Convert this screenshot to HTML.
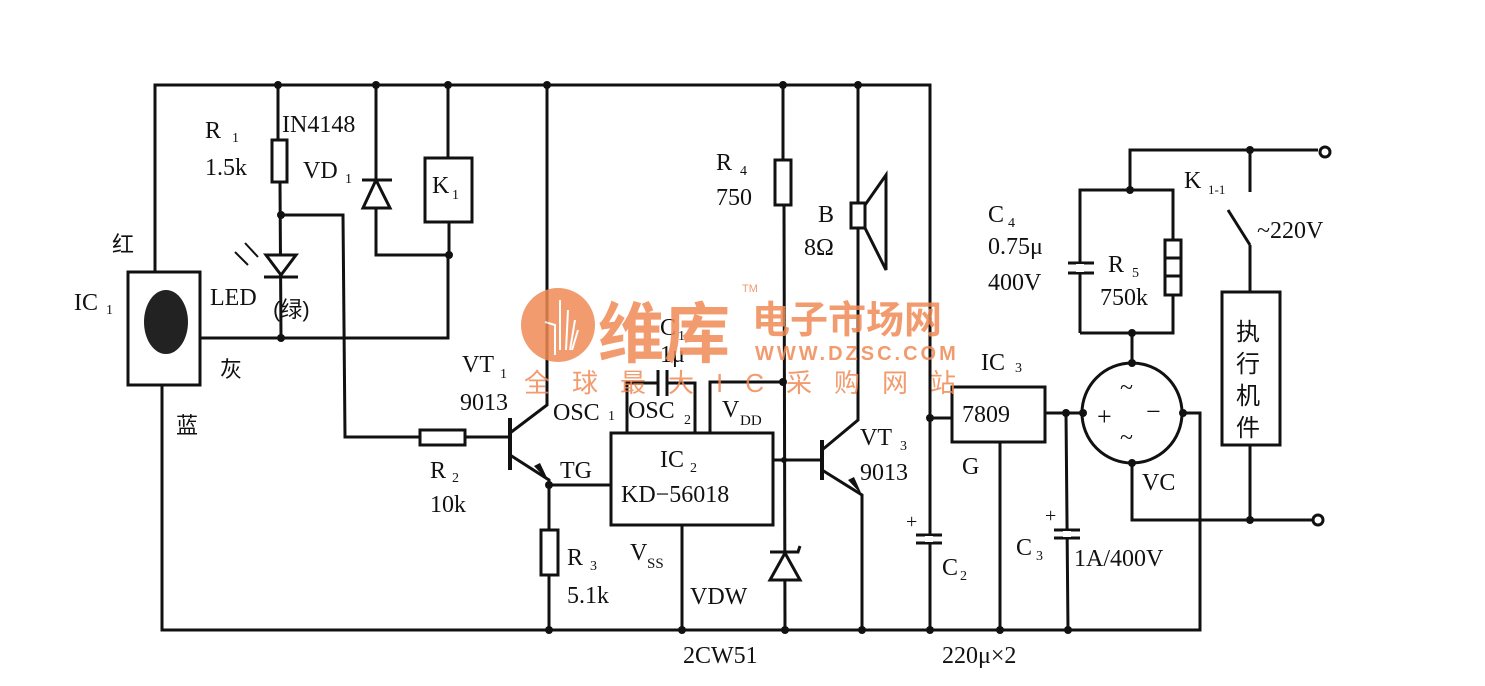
<!DOCTYPE html>
<html><head><meta charset="utf-8"><style>
body{margin:0;background:#fff}
svg text{font-family:"Liberation Serif","Noto Serif CJK SC",serif;fill:#111}
svg text.c{font-family:"Liberation Sans","Noto Sans CJK SC",sans-serif}
svg text.w{fill:#f08a55}
</style></head><body>
<svg width="1485" height="681" viewBox="0 0 1485 681" xmlns="http://www.w3.org/2000/svg">
<g stroke="#111" stroke-width="3" fill="none">
<polyline points="155,272 155,85 930,85 930,630"/>
<polyline points="162,385 162,630 1200,630 1200,413 1183,413"/>
<rect x="128" y="272" width="72" height="113" fill="#fff"/>
<polyline points="200,338 448,338 448,255"/>
<line x1="278" y1="85" x2="278" y2="140"/><rect x="272" y="140" width="15" height="42" fill="#fff"/>
<line x1="280" y1="182" x2="281" y2="338"/>
<polygon points="266,255 296,255 281,275" fill="#fff"/><line x1="264" y1="277" x2="298" y2="277"/>
<line x1="245" y1="243" x2="258" y2="257" stroke-width="2"/><line x1="235" y1="252" x2="248" y2="265" stroke-width="2"/>
<polyline points="281,215 343,215 345,437 420,437"/>
<rect x="420" y="430" width="45" height="15" fill="#fff"/>
<line x1="465" y1="437" x2="510" y2="437"/>
<polyline points="376,85 376,255 450,255"/>
<line x1="362" y1="180" x2="392" y2="180"/><polygon points="376,180 363,208 390,208" fill="#fff"/>
<line x1="448" y1="85" x2="448" y2="158"/><rect x="425" y="158" width="47" height="64" fill="#fff"/><line x1="449" y1="222" x2="449" y2="255"/>
<line x1="510" y1="418" x2="510" y2="470" stroke-width="4"/>
<polyline points="510,433 547,405 547,85"/>
<polyline points="510,455 549,480 549,530"/>
<rect x="541" y="530" width="17" height="45" fill="#fff"/><line x1="549" y1="575" x2="549" y2="630"/>
<line x1="549" y1="485" x2="611" y2="485"/>
<rect x="611" y="433" width="162" height="92"/>
<polyline points="627,433 627,383 658,383"/><line x1="658" y1="370" x2="658" y2="396"/><line x1="667" y1="370" x2="667" y2="396"/>
<polyline points="667,383 695,383 695,433"/>
<polyline points="710,433 710,382 783,382"/>
<line x1="682" y1="525" x2="682" y2="630"/>
<polyline points="773,460 822,460"/>
<line x1="783" y1="85" x2="783" y2="160"/><rect x="775" y="160" width="16" height="45" fill="#fff"/><line x1="784" y1="205" x2="785" y2="630"/>
<polyline points="770,552 798,552 800,546"/><polygon points="785,553 770,580 800,580" fill="#fff"/>
<line x1="822" y1="440" x2="822" y2="480" stroke-width="4"/>
<polyline points="822,450 858,420 858,85"/>
<polyline points="822,470 862,495 862,630"/>
<rect x="851" y="203" width="14" height="25" fill="#fff"/><polygon points="865,205 886,175 886,270 865,228" fill="#fff"/>
<line x1="916" y1="535" x2="942" y2="535"/><line x1="916" y1="543" x2="942" y2="543"/>
<rect x="925" y="536" width="8" height="6" fill="#fff" stroke="none"/>
<line x1="930" y1="418" x2="952" y2="418"/>
<rect x="952" y="387" width="93" height="55"/>
<line x1="1000" y1="442" x2="1000" y2="630"/>
<line x1="1045" y1="413" x2="1083" y2="413"/>
<line x1="1066" y1="413" x2="1068" y2="630"/>
<line x1="1054" y1="530" x2="1080" y2="530"/><line x1="1054" y1="538" x2="1080" y2="538"/>
<rect x="1063" y="531" width="8" height="6" fill="#fff" stroke="none"/>
<circle cx="1132" cy="413" r="50"/>
<polyline points="1132,363 1132,333"/>
<polyline points="1132,463 1132,520 1315,520"/>
<polyline points="1080,333 1080,190 1173,190 1173,240"/><polyline points="1173,295 1173,333 1080,333"/>
<rect x="1165" y="240" width="16" height="55" fill="#fff"/><line x1="1165" y1="258" x2="1181" y2="258"/><line x1="1165" y1="276" x2="1181" y2="276"/>
<line x1="1068" y1="263" x2="1094" y2="263"/><line x1="1068" y1="273" x2="1094" y2="273"/>
<rect x="1076" y="264" width="8" height="8" fill="#fff" stroke="none"/>
<polyline points="1130,190 1130,150 1318,150"/>
<line x1="1250" y1="150" x2="1250" y2="192"/><line x1="1228" y1="210" x2="1250" y2="245"/><line x1="1250" y1="245" x2="1250" y2="292"/>
<rect x="1222" y="292" width="58" height="153"/>
<line x1="1250" y1="445" x2="1250" y2="520"/>
<circle cx="1325" cy="152" r="5" fill="#fff"/><circle cx="1318" cy="520" r="5" fill="#fff"/>
</g>
<ellipse cx="166" cy="322" rx="22" ry="32" fill="#222"/>
<g fill="#111">
<circle cx="278" cy="85" r="4"/><circle cx="376" cy="85" r="4"/><circle cx="448" cy="85" r="4"/><circle cx="547" cy="85" r="4"/><circle cx="783" cy="85" r="4"/><circle cx="858" cy="85" r="4"/>
<circle cx="281" cy="215" r="4"/><circle cx="281" cy="338" r="4"/><circle cx="449" cy="255" r="4"/>
<circle cx="549" cy="485" r="4"/><circle cx="549" cy="630" r="4"/><circle cx="682" cy="630" r="4"/><circle cx="785" cy="630" r="4"/><circle cx="862" cy="630" r="4"/><circle cx="930" cy="630" r="4"/><circle cx="1000" cy="630" r="4"/><circle cx="1068" cy="630" r="4"/>
<circle cx="783" cy="382" r="4"/><circle cx="784" cy="460" r="3"/><circle cx="930" cy="418" r="4"/><circle cx="1066" cy="413" r="4"/>
<circle cx="1083" cy="413" r="4"/><circle cx="1183" cy="413" r="4"/><circle cx="1132" cy="363" r="4"/><circle cx="1132" cy="463" r="4"/>
<circle cx="1132" cy="333" r="4"/><circle cx="1130" cy="190" r="4"/><circle cx="1250" cy="150" r="4"/><circle cx="1250" cy="520" r="4"/>
<polygon points="549,482 534,466 540,463"/><polygon points="862,495 848,480 854,477"/>
</g>
<g font-size="24">
<text x="205" y="138">R</text><text x="232" y="142" font-size="14">1</text>
<text x="205" y="175">1.5k</text>
<text x="282" y="132">IN4148</text>
<text x="303" y="178">VD</text><text x="345" y="183" font-size="14">1</text>
<text x="432" y="193">K</text><text x="452" y="199" font-size="14">1</text>
<text x="112" y="252" class="c" font-size="22">红</text>
<text x="74" y="310">IC</text><text x="106" y="314" font-size="14">1</text>
<text x="210" y="305">LED</text><text x="273" y="317" class="c" font-size="22">(绿)</text>
<text x="220" y="377" class="c" font-size="22">灰</text>
<text x="176" y="433" class="c" font-size="22">蓝</text>
<text x="462" y="372">VT</text><text x="500" y="378" font-size="14">1</text>
<text x="460" y="410">9013</text>
<text x="430" y="478">R</text><text x="452" y="482" font-size="14">2</text>
<text x="430" y="512">10k</text>
<text x="553" y="420">OSC</text><text x="608" y="420" font-size="14">1</text>
<text x="628" y="418">OSC</text><text x="684" y="424" font-size="14">2</text>
<text x="660" y="335">C</text><text x="678" y="340" font-size="14">1</text>
<text x="660" y="362">1μ</text>
<text x="722" y="417">V</text><text x="740" y="425" font-size="15">DD</text>
<text x="560" y="478">TG</text>
<text x="660" y="467">IC</text><text x="690" y="472" font-size="14">2</text>
<text x="621" y="502">KD−56018</text>
<text x="567" y="565">R</text><text x="590" y="570" font-size="14">3</text>
<text x="567" y="603">5.1k</text>
<text x="630" y="560">V</text><text x="647" y="568" font-size="15">SS</text>
<text x="690" y="604">VDW</text>
<text x="683" y="663">2CW51</text>
<text x="716" y="170">R</text><text x="740" y="175" font-size="14">4</text>
<text x="716" y="205">750</text>
<text x="818" y="222">B</text><text x="804" y="255">8Ω</text>
<text x="860" y="445">VT</text><text x="900" y="450" font-size="14">3</text>
<text x="860" y="480">9013</text>
<text x="906" y="528" font-size="20">+</text>
<text x="942" y="575">C</text><text x="960" y="580" font-size="14">2</text>
<text x="942" y="663">220μ×2</text>
<text x="981" y="370">IC</text><text x="1015" y="372" font-size="14">3</text>
<text x="962" y="422">7809</text>
<text x="962" y="474">G</text>
<text x="1045" y="522" font-size="20">+</text>
<text x="1016" y="555">C</text><text x="1036" y="560" font-size="14">3</text>
<text x="1074" y="566">1A/400V</text>
<text x="1097" y="425" font-size="26">+</text><text x="1146" y="420" font-size="26">−</text>
<text x="1120" y="395">~</text><text x="1120" y="445">~</text>
<text x="1142" y="490">VC</text>
<text x="988" y="222">C</text><text x="1008" y="227" font-size="14">4</text>
<text x="988" y="254">0.75μ</text>
<text x="988" y="290">400V</text>
<text x="1108" y="272">R</text><text x="1132" y="277" font-size="14">5</text>
<text x="1100" y="305">750k</text>
<text x="1184" y="188">K</text><text x="1208" y="194" font-size="13">1-1</text>
<text x="1257" y="238">~220V</text>
<text x="1236" y="340" class="c">执</text><text x="1236" y="372" class="c">行</text><text x="1236" y="404" class="c">机</text><text x="1236" y="436" class="c">件</text>
</g>
<g opacity="0.85">
<circle cx="558" cy="325" r="37" fill="#f08a55"/>
<g stroke="#fff" stroke-width="2" fill="none">
<polyline points="545,322 555,325 555,355"/><polyline points="560,300 560,350"/><polyline points="568,310 566,350"/><polyline points="575,320 570,350"/><polyline points="578,330 572,350"/>
</g>
<text x="598" y="357" class="c w" font-size="66" font-weight="bold">维库</text>
<text x="752" y="333" class="c w" font-size="38" font-weight="bold">电子市场网</text>
<text x="755" y="360" class="c w" font-size="20" font-weight="bold" letter-spacing="3">WWW.DZSC.COM</text>
<text x="524" y="392" class="c w" font-size="26" letter-spacing="22">全球最大IC采购网站</text>
<text x="742" y="292" class="c w" font-size="11">TM</text>
</g>
</svg>
</body></html>
